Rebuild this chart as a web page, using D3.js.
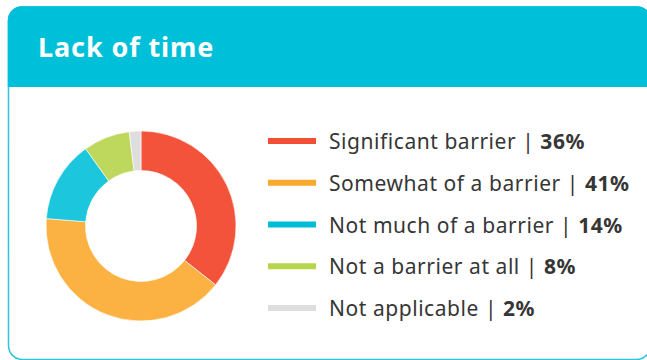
<!DOCTYPE html>
<html>
<head>
<meta charset="utf-8">
<script src="https://cdn.jsdelivr.net/npm/d3@7"></script>
<style>
  html, body { margin: 0; padding: 0; background: #ffffff; }
  svg { display: block; }
</style>
</head>
<body>
<svg id="chart" width="647" height="360"></svg>
<script>
// Survey breakdown for "Lack of time"
const title = "Lack of time";
const categories = [
  "Significant barrier",
  "Somewhat of a barrier",
  "Not much of a barrier",
  "Not a barrier at all",
  "Not applicable"
];
const values = [36, 41, 14, 8, 2];
const sliceColors = ["#F2533A", "#FBB243", "#1CC6DD", "#BED85E", "#DEDEDE"];
const keyColors = ["#F24F36", "#FAA92E", "#00BDD7", "#B7D54B", "#DEDEDE"];

const svg = d3.select("#chart");
const teal = "#00BFD8";
const textFont = "'Noto Sans', 'Open Sans', sans-serif";

// Card: rounded frame with a filled header band (runs past the right edge)
const cardX = 8.5, cardY = 7, cardW = 642, cardH = 352.5, rad = 14, headH = 80;
svg.append("rect")
  .attr("x", cardX).attr("y", cardY)
  .attr("width", cardW).attr("height", cardH)
  .attr("rx", rad).attr("ry", rad)
  .attr("fill", "#ffffff")
  .attr("stroke", "#2CC5DC").attr("stroke-width", 1.5);

const headPath = d3.path();
headPath.moveTo(cardX - 0.75, cardY + headH);
headPath.lineTo(cardX - 0.75, cardY + rad);
headPath.arcTo(cardX - 0.75, cardY - 0.75, cardX + rad, cardY - 0.75, rad);
headPath.lineTo(cardX + cardW - rad, cardY - 0.75);
headPath.arcTo(cardX + cardW + 0.75, cardY - 0.75, cardX + cardW + 0.75, cardY + rad, rad);
headPath.lineTo(cardX + cardW + 0.75, cardY + headH);
headPath.closePath();
svg.append("path").attr("d", headPath.toString()).attr("fill", teal);

svg.append("text")
  .attr("x", 38).attr("y", 57)
  .attr("fill", "#ffffff")
  .attr("font-family", textFont)
  .attr("font-weight", 700)
  .attr("font-size", 27)
  .attr("letter-spacing", 0.9)
  .text(title);

// Donut
const cx = 141, cy = 226, outerR = 95, innerR = 55.5;
const pie = d3.pie().sort(null).value(d => d);
const arc = d3.arc().innerRadius(innerR).outerRadius(outerR);
const color = d3.scaleOrdinal().domain(d3.range(values.length)).range(sliceColors);

svg.append("g")
  .attr("transform", `translate(${cx},${cy})`)
  .selectAll("path")
  .data(pie(values))
  .join("path")
  .attr("d", arc)
  .attr("fill", (d, i) => color(i))
  .attr("stroke", "#ffffff")
  .attr("stroke-width", 0.6);

// Legend
const y = d3.scalePoint().domain(d3.range(categories.length)).range([141, 308]);
const key = svg.append("g");
const rows = key.selectAll("g")
  .data(categories)
  .join("g")
  .attr("transform", (d, i) => `translate(0,${y(i)})`);

rows.append("line")
  .attr("x1", 268).attr("x2", 316)
  .attr("y1", 0).attr("y2", 0)
  .attr("stroke", (d, i) => keyColors[i])
  .attr("stroke-width", 6);

const label = rows.append("text")
  .attr("x", 329).attr("y", 8)
  .attr("fill", "#363636")
  .attr("font-family", textFont)
  .attr("font-size", 21)
  .attr("letter-spacing", 0.55);
label.append("tspan").text(d => d + " | ");
label.append("tspan")
  .attr("font-weight", 700)
  .text((d, i) => values[i] + "%");
</script>
</body>
</html>
